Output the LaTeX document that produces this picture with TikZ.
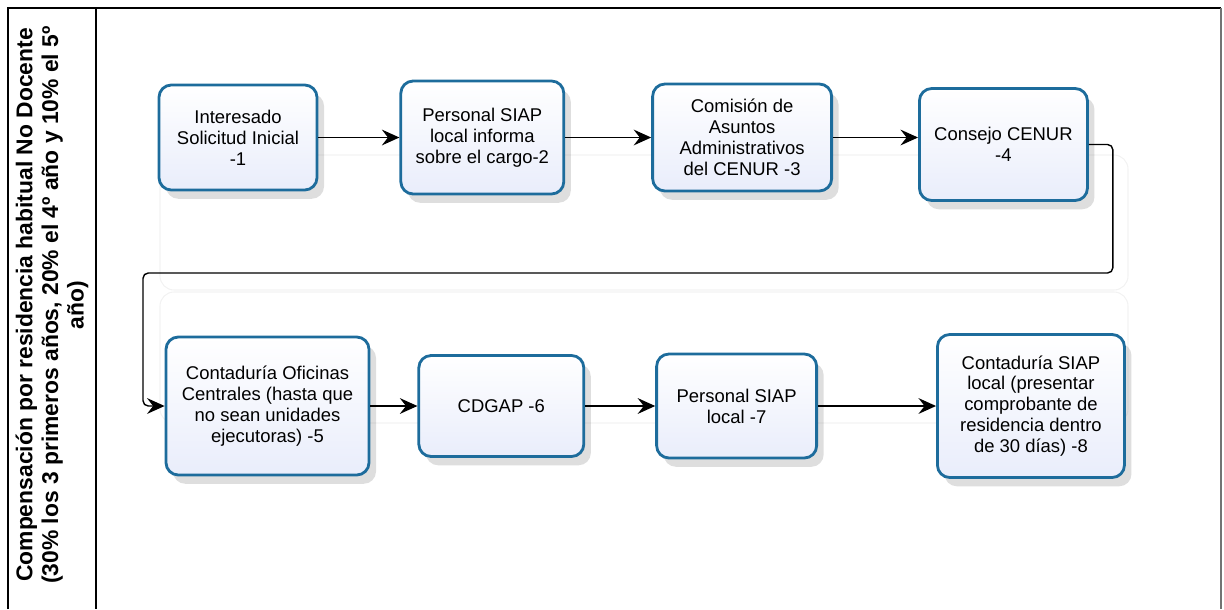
\documentclass[tikz,border=0pt]{standalone}
\usepackage{fontspec}
\setmainfont{Liberation Sans}
\usepackage{xcolor}
\usetikzlibrary{shapes,arrows.meta,positioning,calc,shadows}

\definecolor{boxline}{HTML}{1D6C9C}
\definecolor{boxfill}{HTML}{E9EDFB}

\begin{document}
\begin{tikzpicture}[
    node distance=1.7cm,
    box/.style={rectangle, rounded corners=7pt, draw=boxline, line width=1.6pt, top color=white, bottom color=boxfill, align=center, inner sep=2pt, font=\fontsize{10.5}{11.9}\selectfont, drop shadow={shadow xshift=4pt, shadow yshift=-5pt, opacity=0.13, fill=black}},
    arrow/.style={-{Stealth[length=10pt, width=9pt, inset=3.5pt]}, thick},
    group/.style={draw=black!5, rounded corners=8pt, line width=0.6pt}
]
    \useasboundingbox (0,0) rectangle (24.48,-12.18);
    % lane
    \draw[line width=0.9pt] (0.16,-12.18) |- (24.42,-0.16);
    \draw[line width=0.6pt, black!55] (24.42,-0.16) -- (24.42,-12.18);
    \draw[line width=0.9pt] (1.92,-0.16) -- (1.92,-12.18);
    \node[rotate=90, align=center, font=\bfseries\fontsize{13}{14.6}\selectfont] (lane) at (1.04,-6.1)
        {Compensación por residencia habitual No Docente\\(30\% los 3 primeros años, 20\% el 4º año y 10\% el 5º\\año)};

    % faint groups behind the rows
    \draw[group] (3.2,-3.1) rectangle (22.56,-5.8);
    \draw[group] (3.2,-5.84) rectangle (22.56,-8.46);

    % first row
    \node[box, minimum width=3.16cm, minimum height=2.1cm] (b1) at (4.76,-2.75) {Interesado\\Solicitud Inicial\\-1};
    \node[box, minimum width=3.26cm, minimum height=2.26cm, right=1.62cm of b1] (b2) {Personal SIAP\\local informa\\sobre el cargo-2};
    \node[box, minimum width=3.58cm, minimum height=2.14cm, right=1.72cm of b2] (b3) {Comisión de\\Asuntos\\Administrativos\\del CENUR -3};
    \node[box, minimum width=3.36cm, minimum height=2.24cm, right=1.70cm of b3, yshift=-0.14cm] (b4) {Consejo CENUR\\-4};

    % second row
    \node[box, minimum width=4.06cm, minimum height=2.76cm] (b5) at (5.35,-8.12) {Contaduría Oficinas\\Centrales (hasta que\\no sean unidades\\ejecutoras) -5};
    \node[box, minimum width=3.3cm, minimum height=2.02cm, right=0.94cm of b5] (b6) {CDGAP -6};
    \node[box, minimum width=3.2cm, minimum height=2.08cm, right=1.40cm of b6] (b7) {Personal SIAP\\local -7};
    \node[box, minimum width=3.74cm, minimum height=2.86cm, right=2.36cm of b7] (b8) {Contaduría SIAP\\local (presentar\\comprobante de\\residencia dentro\\de 30 días) -8};

    \coordinate (back) at (2.86,-5.46);

    \draw[arrow] (b1) -- (b2);
    \draw[arrow] (b2) -- (b3);
    \draw[arrow] (b3.east) -- (b3.east -| b4.west);
    \draw[arrow, rounded corners=3pt] (b4.east) -- ++(0.48,0) |- (back) |- (b5.west);
    \draw[arrow] (b5) -- (b6);
    \draw[arrow] (b6) -- (b7);
    \draw[arrow] (b7) -- (b8);
\end{tikzpicture}
\end{document}
